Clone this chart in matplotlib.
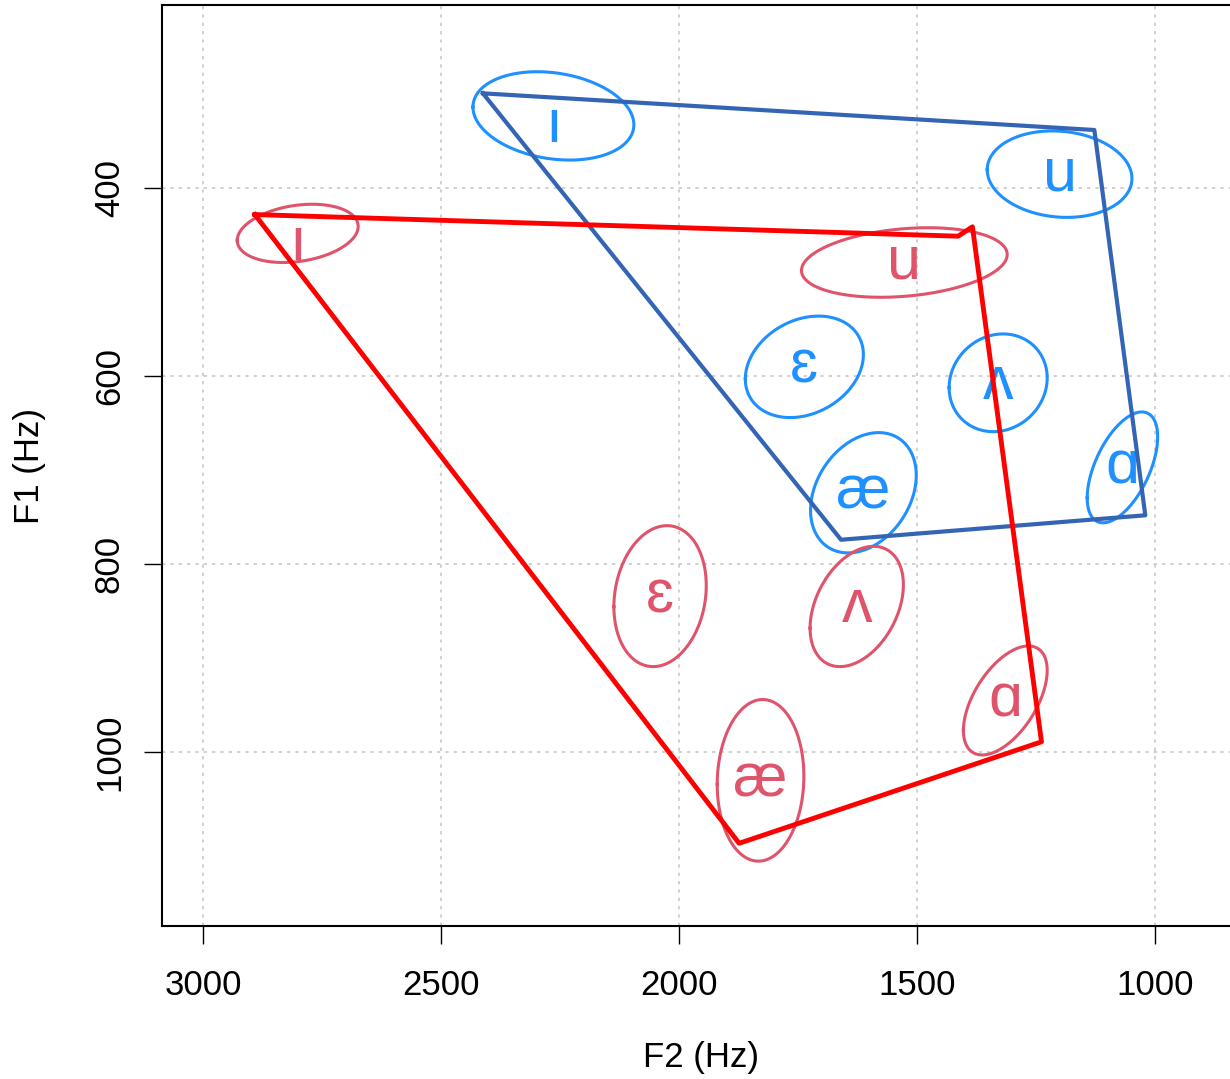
import matplotlib.pyplot as plt
import numpy as np

plt.rcParams['font.family'] = ['Liberation Sans', 'DejaVu Sans']

vowels = ['ı', 'u', 'ɛ', 'ʌ', 'æ', 'ɑ']

# group 1 (blue): mean F2, mean F1, spread F2, spread F1, correlation
blue_f2 = [2264, 1201, 1737, 1330, 1613, 1069]
blue_f1 = [323, 385, 590, 607, 724, 697]
blue_sd2 = [169, 152, 124, 103, 111, 74]
blue_sd1 = [47, 46, 54, 52, 64, 59]
blue_r = [-0.2, -0.1, 0.24, 0.1, 0.29, 0.55]
blue_lab_f1 = [334, 385, 590, 607, 724, 697]

# group 2 (red)
red_f2 = [2801, 1527, 2040, 1627, 1829, 1315]
red_f1 = [448, 479, 834, 845, 1030, 945]
red_sd2 = [127, 216, 97, 98, 91, 88]
red_sd1 = [31, 37, 75, 64, 86, 58]
red_r = [0.24, 0.23, 0.15, 0.36, 0.05, 0.55]
red_lab_f1 = [459, 479, 834, 845, 1030, 945]

# vowel space outlines
blue_poly_f2 = [2412, 1128, 1021, 1660]
blue_poly_f1 = [299, 338, 748, 774]
red_poly_f2 = [2891, 1414, 1384, 1239, 1874]
red_poly_f1 = [428, 451, 441, 989, 1097]

xticks = [3000, 2500, 2000, 1500, 1000]
yticks = [400, 600, 800, 1000]

BLUE = '#1E90FF'
PINK = '#DF536B'


def DrawEllipse(ax, cx, cy, sx, sy, r, color):
    t = np.linspace(0, 2 * np.pi, 300)
    x = cx + sx * np.cos(t)
    y = cy + sy * (r * np.cos(t) + np.sqrt(1 - r * r) * np.sin(t))
    ax.plot(x, y, color=color, lw=2.2, zorder=3)


def DrawGroup(ax, f2, f1, sd2, sd1, rr, lab_f1, color):
    for i in range(len(vowels)):
        DrawEllipse(ax, f2[i], f1[i], sd2[i], sd1[i], rr[i], color)
        # put the x-height middle of the glyph on the label point
        ax.annotate(vowels[i], (f2[i], lab_f1[i]), xytext=(0, -11.5),
                    textcoords='offset points', color=color, fontsize=44,
                    ha='center', va='baseline', zorder=4)


fig = plt.figure(figsize=(12.3, 10.79), dpi=100)
ax = fig.add_axes([162 / 1230, 153 / 1079, 1079 / 1230, 921 / 1079])

ax.set_xlim(3086, 820)
ax.set_ylim(1185, 205)

for v in xticks:
    ax.axvline(v, color='#C8C8C8', lw=1.2, ls=(0, (2, 3)), zorder=0)
for v in yticks:
    ax.axhline(v, color='#C8C8C8', lw=1.2, ls=(0, (2, 3)), zorder=0)

DrawGroup(ax, blue_f2, blue_f1, blue_sd2, blue_sd1, blue_r, blue_lab_f1, BLUE)
DrawGroup(ax, red_f2, red_f1, red_sd2, red_sd1, red_r, red_lab_f1, PINK)

ax.plot(blue_poly_f2 + blue_poly_f2[:1], blue_poly_f1 + blue_poly_f1[:1],
        color='#3465B4', lw=3, zorder=5)
ax.plot(red_poly_f2 + red_poly_f2[:1], red_poly_f1 + red_poly_f1[:1],
        color='#FF0000', lw=3.5, zorder=5)

ax.set_xticks(xticks)
ax.set_xticklabels([str(v) for v in xticks])
ax.set_yticks(yticks)
ax.set_yticklabels([str(v) for v in yticks], rotation=90, va='center')
ax.tick_params(length=13, width=1, labelsize=25)
ax.tick_params(axis='x', pad=18)
ax.tick_params(axis='y', pad=13)

ax.set_xlabel('F2 (Hz)', fontsize=25, labelpad=28)
ax.set_ylabel('F1 (Hz)', fontsize=25, labelpad=34)

for s in ax.spines.values():
    s.set_linewidth(1.5)

fig.savefig('out.png', dpi=100)
